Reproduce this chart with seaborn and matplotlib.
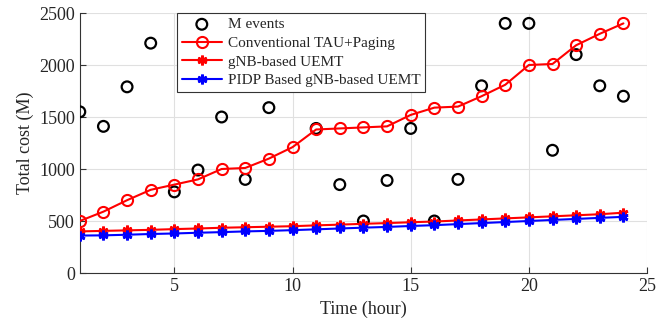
import numpy as np
import pandas as pd
import seaborn as sns
import matplotlib.pyplot as plt

hours = list(range(1, 25))
m_events = [1550, 1410, 1790, 2210, 780, 990, 1500, 900, 1590, 2300, 1390, 850,
            500, 890, 1390, 500, 900, 1800, 2400, 2400, 1180, 2100, 1800, 1700]
conventional = [500, 590, 700, 800, 850, 900, 1000, 1010, 1100, 1210, 1380, 1390,
                1400, 1410, 1520, 1590, 1600, 1700, 1810, 2000, 2010, 2190, 2300, 2400]
gnb_uemt = [400, 405, 410, 415, 422, 428, 435, 440, 445, 450, 458, 465,
            473, 480, 488, 495, 505, 515, 525, 535, 545, 555, 565, 580]
pidp_uemt = [360, 362, 368, 375, 380, 387, 393, 400, 405, 412, 420, 428,
             436, 443, 452, 460, 470, 480, 490, 500, 510, 520, 530, 540]

df = pd.DataFrame({'hour': hours, 'M events': m_events, 'conv': conventional,
                   'gnb': gnb_uemt, 'pidp': pidp_uemt})

sns.set_style('ticks')
plt.rcParams['font.family'] = ['Liberation Serif', 'DejaVu Serif']
plt.rcParams['xtick.direction'] = 'in'
plt.rcParams['ytick.direction'] = 'in'

fig = plt.figure(figsize=(6.65, 3.25), dpi=100)
ax = fig.add_axes([0.12, 0.16, 0.853, 0.8])

star = (6, 2, 0)  # asterisk like matlab '*'

sns.scatterplot(data=df, x='hour', y='M events', ax=ax, marker='o', s=60,
                facecolor='none', edgecolor='black', linewidth=1.6, label='M events', zorder=3)
sns.lineplot(data=df, x='hour', y='conv', ax=ax, color='red', lw=1.5, marker='o', ms=8,
             mfc='none', mec='red', mew=1.5, label='Conventional TAU+Paging', zorder=4)
sns.lineplot(data=df, x='hour', y='gnb', ax=ax, color='red', lw=1.5, marker=star, ms=7,
             mec='red', mew=2, label='gNB-based UEMT', zorder=4)
sns.lineplot(data=df, x='hour', y='pidp', ax=ax, color='blue', lw=1.5, marker=star, ms=7,
             mec='blue', mew=2, label='PIDP Based gNB-based UEMT', zorder=4)

ax.set_xlim(1, 25)
ax.set_ylim(0, 2500)
ax.set_xticks([5, 10, 15, 20, 25])
ax.set_yticks([0, 500, 1000, 1500, 2000, 2500])
ax.grid(True, color='#e0e0e0', lw=0.8)
ax.set_axisbelow(True)
sns.despine(ax=ax)
ax.tick_params(labelsize=13, length=4, color='#333333')
for s in ['left', 'bottom']:
    ax.spines[s].set_color('#333333')
ax.set_xlabel('Time (hour)', fontsize=13)
ax.set_ylabel('Total cost (M)', fontsize=13)

leg = ax.legend(loc='upper left', bbox_to_anchor=(0.172, 1.0), fontsize=11, frameon=True,
                fancybox=False, edgecolor='#333333', framealpha=1, borderpad=0.3,
                labelspacing=0.33, handlelength=2.6, handletextpad=0.4, borderaxespad=0)
leg.set_zorder(10)
leg.get_frame().set_linewidth(0.8)

fig.savefig('out.png', dpi=100)
